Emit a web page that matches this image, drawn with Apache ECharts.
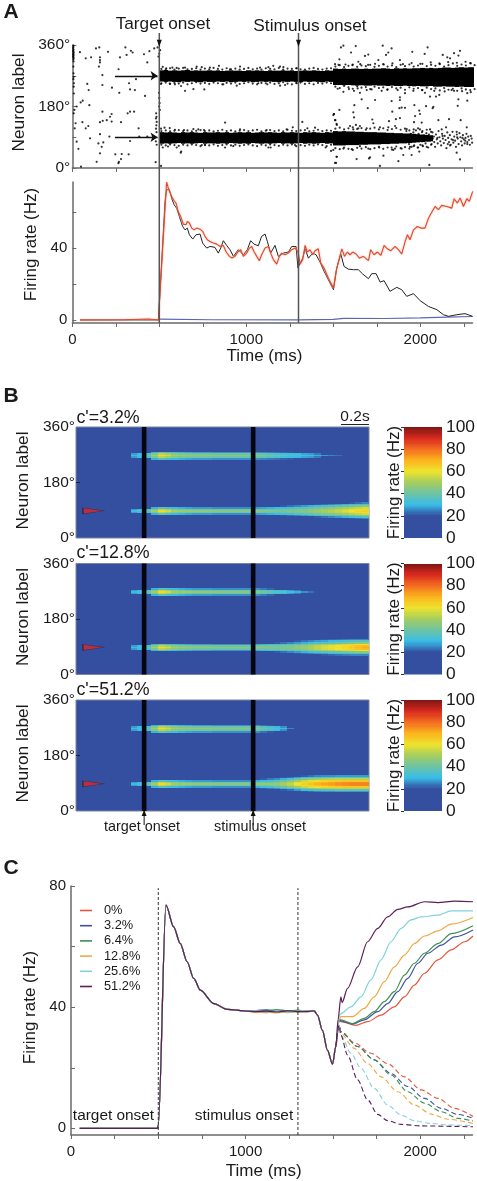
<!DOCTYPE html>
<html>
<head>
<meta charset="utf-8">
<style>
  html, body { margin: 0; padding: 0; background: #fff; }
  #chart { width: 477px; height: 1181px; filter: blur(0.45px); }
</style>
<script src="https://cdn.jsdelivr.net/npm/echarts@6/dist/echarts.min.js"></script>
</head>
<body>
<div id="chart"></div>
<script>
// onset times, ms
const onsetTimes = [500, 1300];

// panel A raster: solid band edges in degrees, one value per 25 ms from 500 ms
const upperTop = [286,287,285,286,285,286,287,285,286,285,285,286,285,286,284,285,286,285,285,284,286,285,286,285,284,286,285,285,286,285,286,284,285,286,285,286,285,284,286,285,
  291,290,291,290,291,291,290,291,290,291,291,292,291,290,292,291,292,291,292,292,293,292,293,292,293,294,294,293,294,295,294,295,295];
const upperBottom = [253,252,253,252,251,253,252,253,252,251,253,252,252,253,252,253,251,252,253,252,253,251,252,253,252,253,252,251,253,252,253,252,251,253,252,253,252,251,253,252,
  243,243,242,243,242,241,242,241,241,242,241,241,240,241,240,240,241,240,239,240,239,239,240,238,238,239,238,238,237,238,237,237,237];
const lowerTop = [105,104,105,104,103,105,104,105,104,103,105,104,104,105,104,105,103,104,105,104,105,103,104,105,104,105,104,103,105,104,105,104,103,105,104,105,104,103,105,104,
  108,107,108,107,107,106,106,105,105,105,104,104,103,103,102,102,101,101,100,99,98,97,96];
const lowerBottom = [71,72,71,72,73,71,72,71,72,73,71,72,72,71,72,71,73,72,71,72,71,73,72,71,72,71,72,73,71,72,71,72,73,71,72,71,72,73,71,72,
  66,66,66,67,67,67,68,68,69,69,69,70,70,71,71,72,72,73,74,75,76,77,78];

// panel A raster: loose spikes just outside those edges, one per 25 ms from 512 ms
const upperFuzzHigh = [290,289,292,288,291,293,289,290,292,288,291,289,293,290,288,292,289,291,288,290,293,289,291,288,292,290,289,293,288,291,290,292,289,288,291,293,290,288,291,292,
  297,301,295,299,303,296,300,298,302,296,299,304,297,300,295,302,298,303,297,300,305,298,302,299,304,297,301,306,299,303,300,307,301];
const upperFuzzLow = [248,250,246,249,247,250,245,248,251,247,249,246,250,248,245,249,247,250,246,248,251,247,245,249,248,250,246,248,251,247,245,249,250,246,248,245,249,247,250,248,
  238,234,240,236,232,239,235,237,231,238,234,236,230,237,233,235,229,236,232,234,228,235,231,233,227,234,229,232,226,233,230,228,231];
const lowerFuzzHigh = [108,110,107,109,111,108,110,107,109,111,108,110,107,109,112,108,110,107,109,111,108,110,112,107,109,111,108,110,107,112,109,108,110,111,107,109,112,108,110,109,
  115,118,113,116,119,114,117,112,115,118,113,116,111,114,117,112,115,110,113,116,108,112,106];
const lowerFuzzLow = [68,66,69,67,65,68,66,69,67,64,68,66,69,65,67,69,66,68,65,67,69,66,64,68,66,69,67,65,68,66,69,64,67,65,68,66,69,67,64,68,
  58,55,60,56,53,59,57,61,55,58,62,56,60,54,63,58,61,57,64,60,66,62,68];

// panel A raster: single spikes [ms, degrees]
const spikesBefore = [[6,358],[6,354],[5,350],[7,346],[5,343],[6,340],[8,337],[5,334],[7,331],[6,328],[5,325],[8,322],[6,318],[7,312],[6,297],[7,277],[8,267],[6,260],[9,248],[8,238],[9,218],[25,180],[12,170],[8,160],[19,131],[14,116],[25,77],[35,56],[50,4],
  [44,339],[77,321],[108,324],[136,350],[155,353],[159,324],[159,316],[159,309],[153,297],[205,340],[305,353],[337,343],[347,338],[312,331],[274,324],[412,333],[443,342],[471,350],[490,353],[431,309],[495,326],
  [173,272],[266,289],[366,260],[86,246],[94,228],[173,243],[228,235],[270,220],[326,248],[332,230],[360,228],[418,211],
  [60,197],[48,192],[98,184],[173,165],[226,158],[217,150],[198,140],[226,136],[175,138],[159,134],[280,134],[318,160],[332,165],[355,165],[58,134],[92,123],[77,116],[381,116],
  [159,99],[102,87],[213,92],[332,79],[385,92],[431,92],[150,72],[178,75],[169,62],[159,43],[247,40],[284,41],[324,40],[280,26],[268,18],[140,18],[265,14],[479,17],
  [482,160],[484,150],[481,145],[485,135],[483,125],[481,115],[484,105],[480,78],[485,68],[498,220],[500,205],[502,190],[499,180],[503,170],[500,335],[505,345],[510,6]];
const spikesDuring = [[648,294],[715,297],[744,295],[791,294],[843,299],[906,289],[964,297],[1079,294],[1127,295],[1155,299],[1194,297],[1213,295],[1290,292],[520,296],[540,292],[575,294],[600,293],
  [648,226],[696,231],[759,230],[868,245],[945,241],[1069,248],[1121,245],[1194,241],[1223,243],[1290,248],[510,246],[560,247],[590,245],[625,240],
  [642,111],[696,114],[724,113],[757,111],[878,133],[964,113],[1117,111],[1232,113],[1267,119],[1322,135],[1351,116],[1395,118],[510,115],[530,118],[560,117],[590,112],
  [623,45],[744,67],[763,67],[878,60],[925,64],[1127,60],[1140,60],[1280,67],[1456,60],[1487,50],[1520,33],[1516,15],[520,60],[550,63],[600,60],[626,48],
  [1504,158],[1510,140],[1520,126],[1535,170],[1500,155]];
const spikesAfter = [[1544,353],[1558,358],[1629,357],[1602,338],[1535,318],[1682,328],[1701,332],[1784,358],[1835,350],[1816,338],[1803,331],[1759,316],[1954,340],[2042,353],[2025,334],[2129,331],[2155,324],[2194,336],[2228,343],[2219,329],[2171,321],[1883,316],[1644,311],[1510,304],
  [1530,302],[1570,303],[1610,301],[1655,304],[1700,302],[1740,305],[1790,303],[1840,306],[1900,304],[1950,307],[2000,305],[2060,309],[2110,306],[2160,310],[2210,308],[2260,311],[2290,306],
  [1558,223],[1619,226],[1653,220],[1692,228],[1778,226],[1912,219],[2027,220],[2056,209],[2090,209],[2109,214],[2180,228],[2270,219],[2194,226],[1740,199],[1663,201],[1835,196],[1883,207],[1883,199],[2219,201],[2270,197],[2215,182],
  [1525,232],[1590,231],[1640,233],[1720,230],[1810,229],[1870,228],[1960,226],[2010,228],[2080,226],[2140,224],[2240,225],[2290,222],
  [1621,184],[1698,175],[1966,184],[2033,181],[2075,179],[2071,175],[1839,165],[1880,175],[1893,177],[1912,176],[1994,168],[1998,158],[1970,152],[1504,158],[1615,163],[1619,148],[1724,142],[1860,143],[1883,146],[1964,134],[2008,133],[2104,140],[2165,143],[2232,140],[1820,137],[1730,131],[1512,140],[1519,129],[2267,119],
  [1596,123],[1630,126],[1653,123],[1615,113],[1644,116],[1692,116],[1768,119],[1816,119],[1855,123],[1922,114],[1998,113],[2056,113],[2123,113],[2148,119],[2209,106],
  [1558,57],[1606,55],[1653,64],[1701,57],[1764,60],[1855,57],[1893,57],[1941,62],[1994,48],[1500,53],[1634,26],[1711,31],[1705,28],[1519,33],[1510,15],[1788,36],[1874,20],[1768,6],[2052,9],[2228,25],[2209,45],[2171,66],[2270,70],[1845,53],[1835,60],[1902,38],[1950,38],
  [1920,108],[1935,70],[1945,100],[1950,62],[1960,104],[1965,66],[1975,110],[1985,60],[1990,100],[2000,68],[2010,105],[2015,64],[2020,95],[2030,72],[2035,102],[2045,60],[2050,98],[2055,80],[2060,88],[2065,70],[2070,104],[2078,92],[2080,76],[2085,62],[2090,98],[2095,84],[2100,72],[2105,108],[2110,90],[2115,78],[2120,66],[2125,100],[2130,86],[2135,73],[2140,94],[2145,82],[2150,58],[2155,104],[2160,88],[2165,76],[2170,96],[2175,68],[2180,84],[2185,106],[2190,74],[2195,92],[2200,80],[2205,62],[2210,98],[2215,86],[2220,70],[2225,102],[2230,90],[2235,78],[2240,66],[2245,96],[2250,84],[2255,72],[2260,88],[2265,100],[2270,76],[2275,92],[2280,82],[2285,68],[2290,94],[2295,86],[2298,74],[2242,88],[2258,80],[2212,90],[2188,82],[2158,70],[2128,94],[2098,88],[2072,86],[2048,84],[2030,88],[2010,78]];

// panel A rates [ms, Hz]
const rateRed = [[44,0],[300,0.1],[440,0.5],[495,0],[500,0],[542,76.5],[552,73.2],[562,72.3],[571,68.6],[585,66.2],[596,64.9],[609,60.2],[623,57.5],[638,53.2],[654,52.9],[661,54.7],[673,53.8],[686,51],[700,50],[715,51],[734,50.4],[749,49.2],[763,46.4],[776,44.5],[791,43.6],[811,42.7],[830,42.1],[849,40.8],[868,41.4],[883,38],[903,35.3],[918,34.4],[935,35.3],[954,38],[968,39],[983,35.3],[1002,37.1],[1018,39.9],[1031,40.8],[1044,38],[1060,35.3],[1075,32.9],[1088,36.2],[1108,39.9],[1127,40.8],[1140,37.1],[1156,33.4],[1175,31],[1190,35.3],[1203,37.1],[1223,36.2],[1242,37.1],[1261,39],[1280,39.9],[1297,38],
  [1309,31],[1324,33.4],[1338,41.4],[1351,37.7],[1366,39],[1382,36.2],[1395,38.4],[1414,39.5],[1428,31.6],[1447,28.8],[1472,23.2],[1501,17.7],[1516,27],[1529,32.1],[1549,39.5],[1564,35.3],[1581,37.7],[1596,36.2],[1612,37.7],[1631,36.6],[1650,34.3],[1673,35.3],[1702,32.9],[1715,39],[1734,36.2],[1754,37.7],[1773,35.8],[1792,41.4],[1811,39.5],[1830,38.4],[1855,40.8],[1874,39],[1893,36.6],[1913,43.6],[1926,47.3],[1941,44.5],[1961,50],[1983,51.9],[2003,51],[2027,51],[2047,56.5],[2060,58.8],[2085,63],[2104,61.2],[2123,63.6],[2152,63],[2181,62.1],[2194,67.3],[2213,64.9],[2229,67.7],[2248,63],[2267,67.3],[2282,65.8],[2301,71.4]];
const rateBlack = [[44,0],[495,0],[500,0],[533,65.8],[542,72.3],[558,72.3],[571,67.6],[585,64],[600,62],[615,57.5],[634,51.9],[648,50],[661,51],[673,47.3],[692,44.9],[711,47.3],[734,47.7],[749,42.7],[772,39.9],[791,40.8],[820,40.3],[839,37.1],[853,39.9],[868,44],[887,41.4],[906,39],[926,35.3],[954,39],[983,36.2],[1006,39],[1025,44],[1044,42.1],[1069,41.2],[1088,46.4],[1108,47.7],[1121,43.6],[1140,37.1],[1165,41.4],[1184,35.3],[1213,37.1],[1242,37.7],[1261,40.8],[1286,40.8],[1297,28.8],
  [1309,31.6],[1324,34.3],[1338,39.5],[1357,34.3],[1382,37.1],[1401,36.2],[1424,32.1],[1447,27],[1472,22.3],[1501,16.8],[1520,28.8],[1543,36.6],[1562,29.7],[1587,28.2],[1616,27.9],[1644,27.9],[1669,25.5],[1702,22.9],[1721,25.7],[1746,25.7],[1769,21],[1792,21.8],[1826,15.9],[1865,18.1],[1893,16.8],[1922,13.1],[1961,14.6],[1999,10.7],[2047,7.5],[2095,5.7],[2133,2.9],[2162,2],[2210,2.9],[2257,3.5],[2301,2]];
const rateBlue = [[500,0.4],[800,0.1],[1300,0],[1500,0.3],[1560,0.9],[1800,0.8],[2000,1.1],[2150,1.6],[2300,1.9]];

// panel B heat map: time bins in ms, rows are the offset in degrees from the band centre
const bandCentres = [267, 88];
const heatStep = 50;
const leadStart = 400;
const leadRows = {
  0:  [31,34,38,50,62,56,50,48,47,46,46,46,45,45,45,45,45,45],
  5:  [27,30,34,44,53,50,45,43,42,41,41,41,40,40,40,40,40,40],
  10: [0,0,0,29,36,33,30,29,28,27,27,27,26,26,26,26,26,26]
};
const upperTails = [
  { 0: [44,42,40,38,37,35,34,32,31,29,27,25,23,0,0,0,0],
    5: [40,38,36,34,32,31,30,28,27,24,0,0,0,0,0,0,0],
    10:[26,25,24,23,22,21,0,0,0,0,0,0,0,0,0,0,0] },
  { 0: [44,41,38,36,34,32,29,26,23,0,0,0,0,0,0,0,0],
    5: [40,37,34,32,30,27,24,0,0,0,0,0,0,0,0,0,0],
    10:[26,24,22,0,0,0,0,0,0,0,0,0,0,0,0,0,0] },
  { 0: [44,40,37,34,30,25,0,0,0,0,0,0,0,0,0,0,0],
    5: [40,36,33,30,26,0,0,0,0,0,0,0,0,0,0,0,0],
    10:[26,23,21,0,0,0,0,0,0,0,0,0,0,0,0,0,0] }
];
const lowerTails = [
  { 0: [45,44,43,42,42,43,43,44,46,48,50,52,54,57,60,63,64],
    5: [41,40,40,40,40,41,42,43,45,47,49,51,53,55,58,61,62],
    10:[27,28,29,30,31,33,35,37,39,41,43,45,47,50,52,54,56],
    15:[0,0,0,0,21,23,25,27,29,31,33,35,37,39,41,43,45],
    20:[0,0,0,0,0,0,0,0,0,21,23,25,27,29,31,33,35],
    25:[0,0,0,0,0,0,0,0,0,0,0,0,0,0,21,23,25] },
  { 0: [46,45,44,43,43,44,46,48,51,54,57,59,61,63,66,69,71],
    5: [41,41,41,41,42,43,45,47,50,53,56,58,60,62,64,67,69],
    10:[28,29,30,31,33,36,38,41,44,47,50,52,54,56,57,59,60],
    15:[0,0,0,21,23,25,27,29,32,34,36,38,40,42,44,45,46],
    20:[0,0,0,0,0,0,21,23,25,27,28,30,31,33,34,36,36],
    25:[0,0,0,0,0,0,0,0,0,0,21,22,23,24,25,25,25] },
  { 0: [46,46,46,47,50,54,60,64,67,70,72,73,75,76,77,77,77],
    5: [42,42,43,45,48,52,58,62,65,68,70,72,74,75,76,76,76],
    10:[29,31,33,36,40,45,50,55,58,61,63,64,65,66,66,66,66],
    15:[0,21,24,26,29,33,38,43,46,49,51,52,53,53,53,53,53],
    20:[0,0,0,0,21,23,27,30,33,35,36,37,38,38,38,38,38],
    25:[0,0,0,0,0,0,0,21,23,25,26,26,27,27,27,27,27] }
];
const cueMark = [[128, 88]];
const coherenceLabels = ["c'=3.2%", "c'=12.8%", "c'=51.2%"];

// panel C, all conditions share the onset transient and the dip
const commonRise = [[50,0],[495,0],[500,1],[544,73.7],[588,66.5],[626,61],[665,55],[703,49.5],[741,45.6],[818,41.2],[895,39.3],[1010,38.7]];
const commonDip = [[1393,38.8],[1412,37.4],[1440,32.4],[1469,25.8],[1498,21.2],[1517,27]];
const plateauTimes = [1060,1120,1180,1240,1300,1350];
const coherences = ['0%','3.2%','6.4%','12.8%','25.6%','51.2%'];
const coherenceColors = ['#e2563c','#3f51a3','#3f8f52','#f0a845','#7fd2de','#5a1f55'];
const plateaus = [
  [38.3,38.2,38.6,38.2,38.7,38.4],
  [38.9,39.1,38.6,38.9,38.5,38.8],
  [38.6,38.9,39.2,38.8,39,38.5],
  [38.2,38.5,38.1,38.6,38.3,38.7],
  [38.8,38.4,38.7,38.3,38.6,38.9],
  [38.5,38.7,38.4,38.8,38.5,38.6]
];
const winners = [
  [[1536,35.8],[1546,35.2],[1632,34],[1699,35.2],[1776,37.4],[1852,40.1],[1910,43.4],[1967,47.3],[2025,51.2],[2102,55.6],[2178,58.9],[2255,61.6],[2303,63.5]],
  [[1536,35.8],[1546,35.5],[1613,34.4],[1680,35.8],[1757,38.5],[1814,41.2],[1872,45.1],[1929,49.5],[1987,54.5],[2044,57.8],[2121,60.5],[2197,63.2],[2303,65.5]],
  [[1536,35.8],[1546,35.8],[1613,34.6],[1680,36.3],[1737,38.5],[1795,41.8],[1852,45.1],[1910,50.6],[1967,54.5],[2025,57.8],[2102,61],[2178,64.3],[2303,66.9]],
  [[1536,36],[1546,36.9],[1613,36.9],[1680,39.6],[1737,43.4],[1795,48.4],[1852,53.3],[1910,57.2],[1967,61],[2025,63.5],[2102,65.2],[2178,67.4],[2303,69.6]],
  [[1536,37],[1546,37.9],[1603,40.1],[1661,43.4],[1718,49],[1776,55.6],[1833,61.6],[1891,66],[1948,68.8],[2006,69.8],[2102,70.4],[2178,71.8],[2303,71.8]],
  [[1530,36],[1546,43.4],[1553,41.5],[1584,46.2],[1642,53.3],[1699,61.6],[1757,66],[1814,69.8],[1872,72.3],[1929,73.1],[2025,74.8],[2102,74.5],[2197,75],[2303,74.8]]
];
const losers = [
  [[1536,34],[1546,31.9],[1622,28.3],[1718,24.8],[1814,21.4],[1910,17],[2006,12.7],[2102,9.9],[2197,6.6],[2303,3.9]],
  [[1536,34],[1546,31.9],[1642,27],[1737,22.6],[1833,18.1],[1929,13.8],[2025,9.9],[2121,6.6],[2216,4.6],[2303,3.3]],
  [[1536,34],[1546,31.9],[1642,27],[1737,22.6],[1833,17.6],[1929,12.1],[2025,8.3],[2121,5.5],[2216,3.3],[2303,2.4]],
  [[1536,34],[1546,31.3],[1622,26.4],[1699,21.4],[1776,17],[1872,12.1],[1967,7.7],[2063,4.7],[2159,3],[2303,1.6]],
  [[1536,34],[1546,30.8],[1603,24.8],[1661,19.8],[1737,13.2],[1814,7.7],[1891,4.4],[1967,2.5],[2063,1.6],[2159,1.1],[2303,0.9]],
  [[1536,34],[1546,30.8],[1584,24.2],[1642,16],[1699,9.4],[1757,4.6],[1814,2.5],[1891,1.3],[2006,0.8],[2303,0.5]]
];

const FONT = '"Liberation Sans", Arial, sans-serif';
const INK = '#1a1a1a';
const AXIS = '#6a6a6a';
const HEAT_BG = '#344f9f';
const LEFT = 72.3, RIGHT = 4.5;

// one rectangular cell, stepX wide from value(0), stepY tall around value(1)
function cellItem(stepX, stepY) {
  return function (params, api) {
    const a = api.coord([api.value(0), api.value(1) + stepY / 2]);
    const b = api.coord([api.value(0) + stepX, api.value(1) - stepY / 2]);
    const x = Math.round(a[0]), y = Math.round(a[1]);
    return {
      type: 'rect',
      shape: { x: x, y: y, width: Math.round(b[0]) - x, height: Math.max(1, Math.round(b[1]) - y) },
      style: { fill: api.visual('color') }
    };
  };
}

// solid raster column [t, low, high]
function bandColumn(params, api) {
  const a = api.coord([api.value(0), api.value(2)]);
  const b = api.coord([api.value(0) + 25, api.value(1)]);
  const x = Math.round(a[0]);
  return { type: 'rect', shape: { x: x, y: a[1], width: Math.round(b[0]) - x, height: b[1] - a[1] }, style: { fill: '#000' } };
}

function bandData(top, bottom) {
  return top.map((hi, i) => [500 + i * 25, bottom[i], hi]);
}

function fuzzData(values) {
  return values.map((deg, i) => [512 + i * 25, deg]);
}

function heatData(panel) {
  const out = [];
  [upperTails[panel], lowerTails[panel]].forEach((tail, b) => {
    Object.keys(tail).forEach(key => {
      const off = +key;
      const lead = leadRows[off] || [];
      const pad = new Array(18 - lead.length).fill(0);
      lead.concat(pad, tail[off]).forEach((v, i) => {
        if (!v) return;
        const t = leadStart + i * heatStep;
        out.push([t, bandCentres[b] + off, v]);
        if (off) out.push([t, bandCentres[b] - off, v]);
      });
    });
  });
  return out;
}

const colorLevels = [];
for (let v = 0; v < 100; v++) colorLevels.push([0, v + 0.5, v + 0.5]);

const grids = [], xAxes = [], yAxes = [], series = [];

function addGrid(top, height, left, right, extra) {
  grids.push(Object.assign({ left: left, right: right, top: top, height: height, outerBoundsMode: 'none' }, extra || {}));
  return grids.length - 1;
}

const quarterTicks = [0,250,500,750,1000,1250,1500,1750,2000,2250];

function timeAxis(index, withLabels, name, gap) {
  xAxes.push({
    type: 'value', gridIndex: index, min: 0, max: 2300, splitLine: { show: false },
    axisLine: { onZero: false, lineStyle: { color: AXIS, width: 1.5 } },
    axisTick: { customValues: quarterTicks, length: 4, lineStyle: { color: AXIS, width: 1 } },
    axisLabel: withLabels ? { customValues: [0,1000,2000], formatter: v => String(v), margin: 9, color: INK, fontSize: 15, fontFamily: FONT } : { show: false },
    name: name, nameLocation: 'middle', nameGap: gap,
    nameTextStyle: { color: INK, fontSize: 17, fontFamily: FONT, padding: [0, 16, 0, 0] }
  });
}

function rateAxis(index, min, max, ticks, labels, name, gap, shift) {
  yAxes.push({
    type: 'value', gridIndex: index, min: min, max: max, splitLine: { show: false },
    axisLine: { onZero: false, lineStyle: { color: AXIS, width: 1.5 } },
    axisTick: { customValues: ticks, inside: true, length: 4, lineStyle: { color: AXIS, width: 1 } },
    axisLabel: { customValues: labels, margin: 5, color: INK, fontSize: 15, fontFamily: FONT },
    name: name, nameLocation: 'middle', nameGap: gap,
    nameTextStyle: { color: INK, fontSize: 17, fontFamily: FONT, padding: shift }
  });
}

function plainLine(name, x, y, data, style, extra) {
  series.push(Object.assign({
    type: 'line', name: name, xAxisIndex: x, yAxisIndex: y, data: data,
    symbol: 'none', silent: true, animation: false, lineStyle: style
  }, extra || {}));
}

// --- panel A raster
const gRaster = addGrid(45, 123, LEFT, RIGHT);
timeAxis(gRaster, false);
yAxes.push({
  type: 'value', gridIndex: gRaster, min: 0, max: 360, splitLine: { show: false },
  axisLine: { lineStyle: { color: AXIS, width: 1.5 } },
  axisTick: { customValues: [0,90,180,270,360], inside: true, length: 4, lineStyle: { color: AXIS } },
  axisLabel: { customValues: [0,180,360], margin: 2, color: INK, fontSize: 15.5, fontFamily: FONT, formatter: '{value}°' },
  name: 'Neuron label', nameLocation: 'middle', nameGap: 21,
  nameTextStyle: { color: INK, fontSize: 17.3, fontFamily: FONT, padding: [0, 0, 0, 8] }
});
[bandData(upperTop, upperBottom), bandData(lowerTop, lowerBottom)].forEach(d => {
  series.push({ type: 'custom', xAxisIndex: gRaster, yAxisIndex: gRaster, data: d, renderItem: bandColumn, silent: true, animation: false, clip: true });
});
series.push({
  type: 'scatter', name: 'spikes', xAxisIndex: gRaster, yAxisIndex: gRaster,
  data: spikesBefore.concat(spikesDuring, spikesAfter, fuzzData(upperFuzzHigh), fuzzData(upperFuzzLow), fuzzData(lowerFuzzHigh), fuzzData(lowerFuzzLow)),
  symbolSize: 2.2, itemStyle: { color: '#000' },
  silent: true, animation: false, clip: false, large: false,
  markLine: {
    silent: true, animation: false, symbol: ['none', 'arrow'], symbolSize: 7, label: { show: false },
    lineStyle: { color: '#111', width: 1.3, type: 'solid' },
    data: [[{ coord: [245, 270] }, { coord: [490, 270] }], [{ coord: [245, 90] }, { coord: [490, 90] }]]
  }
});

// --- panel A rates
const gRate = addGrid(182, 141, LEFT, RIGHT);
timeAxis(gRate, true, 'Time (ms)', 25);
rateAxis(gRate, -1.7, 76.6, [0,20,40,60], [0,40], 'Firing rate (Hz)', 31, [0, 0, 0, 16]);
plainLine('blue', gRate, gRate, rateBlue, { color: '#5b67b4', width: 1.2 });
plainLine('black', gRate, gRate, rateBlack, { color: '#222', width: 1 });
plainLine('red', gRate, gRate, rateRed, { color: '#e2492c', width: 1.1, shadowColor: '#f4a996', shadowBlur: 2 });

// --- onset lines crossing both A panels
const gOverlay = addGrid(33, 290, LEFT, RIGHT);
xAxes.push({ type: 'value', gridIndex: gOverlay, min: 0, max: 2300, show: false });
yAxes.push({ type: 'value', gridIndex: gOverlay, min: 0, max: 1, show: false });
onsetTimes.forEach(t => {
  plainLine('onset', gOverlay, gOverlay, [[t, 0], [t, 1]], { color: '#555', width: 1.5 }, {
    markPoint: {
      silent: true, animation: false, symbol: 'triangle', symbolRotate: 180, symbolSize: [5, 7],
      itemStyle: { color: '#111' }, label: { show: false }, data: [{ coord: [t, 0.965] }]
    }
  });
});

// --- panel B
const heatTops = [427, 563.5, 700];
const heatSeries = [];
heatTops.forEach((top, p) => {
  const g = addGrid(top, 111, 76, 108, { show: true, backgroundColor: HEAT_BG, borderColor: '#7d84a0', borderWidth: 1 });
  xAxes.push({ type: 'value', gridIndex: g, min: 0, max: 2150, axisLine: { show: false }, axisTick: { show: false }, axisLabel: { show: false }, splitLine: { show: false } });
  yAxes.push({
    type: 'value', gridIndex: g, min: 0, max: 360, splitLine: { show: false },
    axisLine: { show: false },
    axisTick: { customValues: [180], inside: true, length: 4, lineStyle: { color: '#222' } },
    axisLabel: { customValues: [0,180,360], margin: 1, color: INK, fontSize: 15.5, fontFamily: FONT, formatter: '{value}°' },
    name: 'Neuron label', nameLocation: 'middle', nameGap: 29,
    nameTextStyle: { color: INK, fontSize: 17.3, fontFamily: FONT, padding: [0, 0, 0, 4] }
  });
  heatSeries.push(series.length);
  series.push({ type: 'custom', xAxisIndex: g, yAxisIndex: g, data: heatData(p), encode: { x: 0, y: 1 }, renderItem: cellItem(heatStep, 5), silent: true, animation: false, clip: true });
  onsetTimes.forEach(t => plainLine('onset bar', g, g, [[t, 0], [t, 360]], { color: '#05060f', width: 4.6 }));
  series.push({
    type: 'scatter', xAxisIndex: g, yAxisIndex: g, data: cueMark, silent: true, animation: false,
    symbol: 'path://M0,0 L21,3 L0,6 Z', symbolSize: [21, 6],
    itemStyle: { color: '#d8252f', borderColor: '#222', borderWidth: 0.7 }
  });
});

// --- colour bars
const barGrids = [];
heatTops.forEach(top => {
  const g = addGrid(top, 111, 404, 35);
  barGrids.push(g);
  xAxes.push({ type: 'value', gridIndex: g, min: 0, max: 1, show: false });
  yAxes.push({
    type: 'value', gridIndex: g, position: 'right', min: 0, max: 100, interval: 20, splitLine: { show: false },
    axisLine: { show: false },
    axisTick: { inside: true, length: 3, lineStyle: { color: '#333' } },
    axisLabel: { margin: 4, color: INK, fontSize: 17.4, fontFamily: FONT }
  });
  heatSeries.push(series.length);
  series.push({ type: 'custom', xAxisIndex: g, yAxisIndex: g, data: colorLevels, encode: { x: 0, y: 1 }, renderItem: cellItem(1, 1), silent: true, animation: false, clip: true });
});

// --- arrows under the last heat map
const gArrows = addGrid(811, 14, 76, 108);
xAxes.push({ type: 'value', gridIndex: gArrows, min: 0, max: 2150, show: false });
yAxes.push({ type: 'value', gridIndex: gArrows, min: 0, max: 1, show: false });
onsetTimes.forEach(t => {
  plainLine('arrow', gArrows, gArrows, [[t, 0], [t, 1]], { color: '#111', width: 1 }, {
    markPoint: { silent: true, animation: false, symbol: 'triangle', symbolSize: [5, 6], itemStyle: { color: '#111' }, label: { show: false }, data: [{ coord: [t, 0.85] }] }
  });
});

// --- panel C
const gFan = addGrid(886, 249, 71, 4.5);
timeAxis(gFan, true, 'Time (ms)', 28);
rateAxis(gFan, -2.2, 80, [0,20,40,60,80], [0,40,80], 'Firing rate (Hz)', 30, [0, 0, 0, 6]);
coherences.forEach((name, i) => {
  const flat = plateauTimes.map((t, k) => [t, plateaus[i][k]]);
  plainLine(name, gFan, gFan, commonRise.concat(flat, commonDip, winners[i]), { color: coherenceColors[i], width: 1.2 }, { itemStyle: { color: coherenceColors[i] }, smooth: 0.3, smoothMonotone: 'x' });
  plainLine(name + ' out', gFan, gFan, [[1517, 27]].concat(losers[i]), { color: coherenceColors[i], width: 1.1, type: [5, 3] }, { smooth: 0.3, smoothMonotone: 'x' });
});
onsetTimes.forEach(t => plainLine('onset dash', gFan, gFan, [[t, -2.2], [t, 79.3]], { color: '#333', width: 1, type: [3, 2] }));

// colour bar titles sit on a second, bare axis left of each bar
barGrids.forEach(g => {
  yAxes.push({
    type: 'value', gridIndex: g, position: 'left', min: 0, max: 100,
    axisLine: { show: false }, axisTick: { show: false }, axisLabel: { show: false }, splitLine: { show: false },
    name: 'Firing rate (Hz)', nameLocation: 'middle', nameGap: 1,
    nameTextStyle: { color: INK, fontSize: 17, fontFamily: FONT }
  });
});

function text(str, x, y, size, weight) {
  return { type: 'text', x: x, y: y, silent: true, style: { text: str, fill: INK, font: (weight || 'normal') + ' ' + size + 'px ' + FONT, textAlign: 'center', textVerticalAlign: 'middle' } };
}

const labels = [
  text('A', 11, 12, 21, 'bold'),
  text('B', 11, 396, 21, 'bold'),
  text('C', 11, 868, 21, 'bold'),
  text('Target onset', 163, 24, 17.2),
  text('Stimulus onset', 310, 26, 17.3),
  text('0.2s', 355, 417, 15.5),
  text('target onset', 142, 827, 14.4),
  text('stimulus onset', 260, 827, 14.4),
  text('target onset', 113.5, 1116, 15.4),
  text('stimulus onset', 244, 1116, 15.4),
  { type: 'rect', silent: true, shape: { x: 341, y: 424, width: 28, height: 1 }, style: { fill: '#222' } }
];
coherenceLabels.forEach((str, i) => {
  labels.push(text(str, [108, 113, 113][i], [418, 553, 690][i], 17.8));
});

const chart = echarts.init(document.getElementById('chart'), null, { renderer: 'canvas' });
chart.setOption({
  animation: false,
  backgroundColor: '#fff',
  textStyle: { fontFamily: FONT },
  grid: grids,
  xAxis: xAxes,
  yAxis: yAxes,
  visualMap: {
    show: false, type: 'continuous', min: 0, max: 100, dimension: 2, seriesIndex: heatSeries,
    inRange: { color: ['#344f9f','#344f9f','#344f9f','#39bce8','#6dc3a3','#a5cd5f','#eee32e','#fbb41d','#f36c21','#d8291f','#7c1512'] }
  },
  legend: {
    data: coherences, left: 75, top: 899, orient: 'vertical', icon: 'rect', itemWidth: 12, itemHeight: 1.6, itemGap: 2.2,
    selectedMode: false, textStyle: { color: INK, fontSize: 12.8, fontFamily: FONT, lineHeight: 12, padding: [0, 0, 0, 7] }
  },
  series: series,
  graphic: labels
});
</script>
</body>
</html>
